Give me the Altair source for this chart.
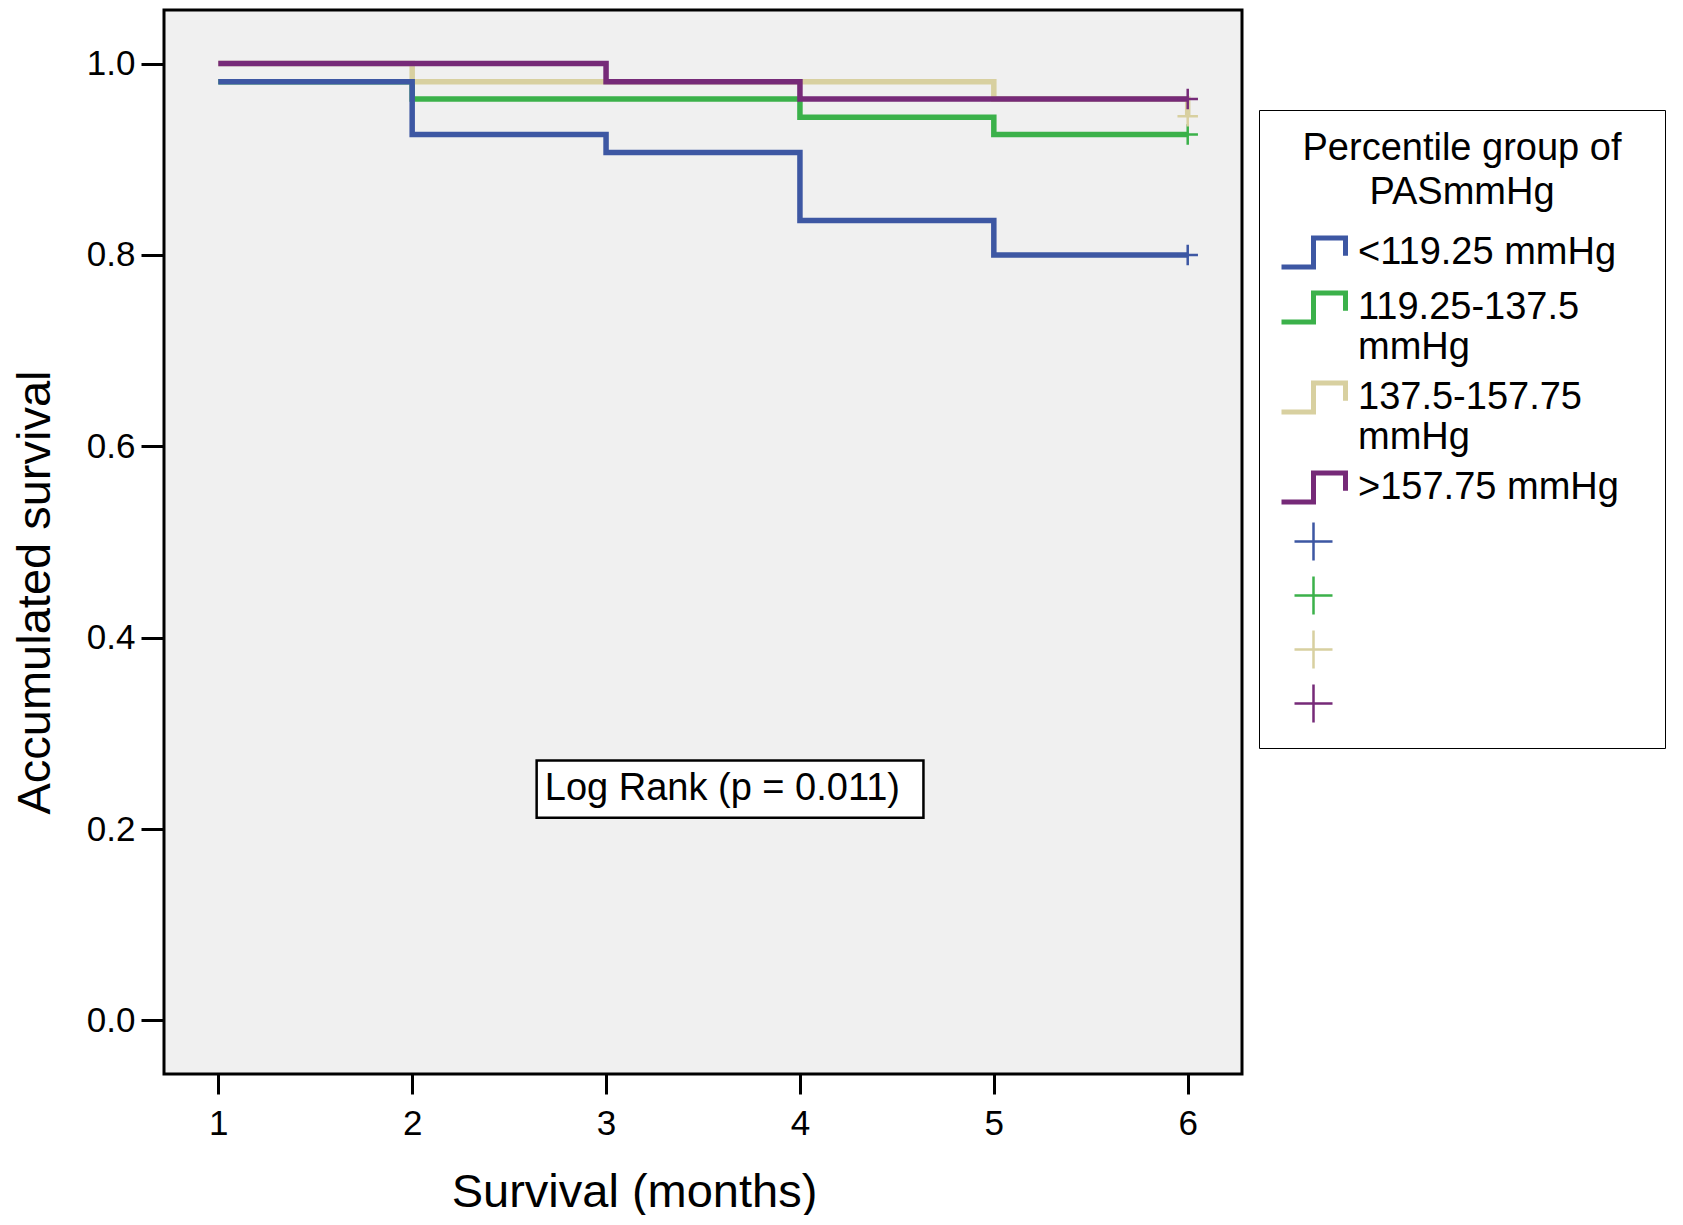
import altair as alt
import pandas as pd

# ---------------- data ----------------
times = [1, 2, 3, 4, 5, 6]
groups = ["<119.25 mmHg", "119.25-137.5 mmHg", "137.5-157.75 mmHg", ">157.75 mmHg"]
surv_blue = [0.981, 0.926, 0.907, 0.836, 0.800, 0.800]
surv_green = [0.981, 0.963, 0.963, 0.944, 0.926, 0.926]
surv_tan = [1.000, 0.981, 0.981, 0.981, 0.963, 0.945]
surv_purple = [1.000, 1.000, 0.981, 0.963, 0.963, 0.963]
colors = ["#3D57A3", "#3BB14A", "#D8D0A0", "#762A78"]

censor_time = [6, 6, 6, 6]
censor_surv = [0.800, 0.926, 0.945, 0.963]

legend_keys = ["<119.25 mmHg\u2800", "119.25-137.5|mmHg", "137.5-157.75|mmHg",
               ">157.75 mmHg", " 1", " 2", " 3", " 4"]
legend_title = ["Percentile group of", "PASmmHg"]

y_ticks = [0.0, 0.2, 0.4, 0.6, 0.8, 1.0]
x_ticks = [1, 2, 3, 4, 5, 6]

logrank_text = ["Log Rank (p = 0.011)"]
logrank_x1, logrank_x2 = [2.642], [4.637]
logrank_y1, logrank_y2 = [0.2118], [0.2717]
logrank_xc, logrank_yc = [3.60], [0.2417]

FONT = "Liberation Sans"

series = {groups[0]: surv_blue, groups[1]: surv_green,
          groups[2]: surv_tan, groups[3]: surv_purple}
rows = []
for g, vals in series.items():
    for t, s in zip(times, vals):
        rows.append({"group": g, "time": t, "surv": s})
lines_df = pd.DataFrame(rows)
censor_df = pd.DataFrame({"group": groups, "time": censor_time, "surv": censor_surv})
dummy_df = pd.DataFrame({"key": legend_keys, "time": [-5] * 8, "surv": [-5] * 8})
box_df = pd.DataFrame({"x1": logrank_x1, "x2": logrank_x2, "y1": logrank_y1,
                       "y2": logrank_y2, "xc": logrank_xc, "yc": logrank_yc,
                       "text": logrank_text})

W, H = 1078, 1064

x_scale = alt.Scale(domain=[0.72, 6.28], nice=False, zero=False)
y_scale = alt.Scale(domain=[-0.056, 1.056], nice=False, zero=False)
stroke_scale = alt.Scale(domain=groups, range=colors)

x_axis = alt.Axis(values=x_ticks, format="d", title="Survival (months)",
                  grid=False, domain=False, tickSize=20, tickWidth=3, tickColor="black",
                  labelFontSize=35, labelPadding=12, labelColor="black", labelFont=FONT,
                  titleFontSize=47, titleFontWeight="normal", titlePadding=28,
                  titleColor="black", titleFont=FONT, titleX=470)
y_axis = alt.Axis(values=y_ticks, format=".1f", title="Accumulated survival",
                  grid=False, domain=False, tickSize=23, tickWidth=3, tickColor="black",
                  labelFontSize=35, labelPadding=6, labelColor="black", labelFont=FONT,
                  titleFontSize=47, titleFontWeight="normal", titlePadding=27,
                  titleColor="black", titleFont=FONT, titleY=582)

X = alt.X("time:Q", scale=x_scale, axis=x_axis)
Y = alt.Y("surv:Q", scale=y_scale, axis=y_axis)

layers = []
for g in [groups[1], groups[2], groups[0], groups[3]]:
    layers.append(
        alt.Chart(lines_df).transform_filter(alt.datum.group == g)
        .mark_line(interpolate="step-after", strokeWidth=5.5, clip=True)
        .encode(x=X, y=Y, stroke=alt.Stroke("group:N", scale=stroke_scale, legend=None))
    )

censor = alt.Chart(censor_df).mark_point(
    shape="M-1,0H1M0,-1V1", size=420, filled=False, strokeWidth=2.5, opacity=1
).encode(x=X, y=Y, stroke=alt.Stroke("group:N", scale=stroke_scale, legend=None))

# legend symbol paths (symbolSize 2500 -> unit = 25 px)
step_path = "M-1,0.58H0.28V-0.58H1.56V0.13"
cross_path = "M-0.48,0H1.04M0.28,-0.76V0.76"

leg = alt.Legend(orient="none", legendX=1095, legendY=100, symbolSize=2500,
                 labelFontSize=38, titleFontSize=38, labelFont=FONT, titleFont=FONT,
                 titleFontWeight="normal", titleAlign="center", titleAnchor="middle",
                 titleLineHeight=44, titlePadding=13, titleLimit=800,
                 labelOffset=24, labelLimit=800,
                 rowPadding=3, padding=20, strokeColor="black", fillColor="white",
                 labelColor="black", titleColor="black", labelBaseline="middle",
                 symbolOpacity=1,
                 labelExpr="length(datum.label) < 3 ? '' : split(datum.label, '|')")

dummy = alt.Chart(dummy_df).mark_point(filled=False, clip=True, opacity=1).encode(
    x=X, y=Y,
    color=alt.Color("key:N", title=legend_title,
                    scale=alt.Scale(domain=legend_keys, range=colors + colors), legend=leg),
    shape=alt.Shape("key:N", title=legend_title,
                    scale=alt.Scale(domain=legend_keys, range=[step_path] * 4 + [cross_path] * 4),
                    legend=leg),
    strokeWidth=alt.StrokeWidth("key:N", title=legend_title,
                                scale=alt.Scale(type="ordinal", domain=legend_keys,
                                                range=[5, 5, 5, 5, 2.5, 2.5, 2.5, 2.5]),
                                legend=leg),
)

box = alt.Chart(box_df).mark_rect(fill="white", stroke="black", strokeWidth=2.5).encode(
    x=alt.X("x1:Q", scale=x_scale, axis=x_axis), x2="x2:Q",
    y=alt.Y("y1:Q", scale=y_scale, axis=y_axis), y2="y2:Q")
box_text = alt.Chart(box_df).mark_text(fontSize=38, font=FONT, color="black",
                                       align="center", baseline="middle").encode(
    x=alt.X("xc:Q", scale=x_scale, axis=x_axis),
    y=alt.Y("yc:Q", scale=y_scale, axis=y_axis), text="text:N")

chart = alt.layer(box, box_text, *layers, censor, dummy).properties(
    width=W, height=H,
    padding={"left": 3, "top": 2, "right": 0, "bottom": 0},
    background="white",
).configure(font=FONT).configure_view(stroke="black", strokeWidth=3, fill="#F0F0F0")

chart.save("out.html", embed_options={"renderer": "svg", "actions": False})
